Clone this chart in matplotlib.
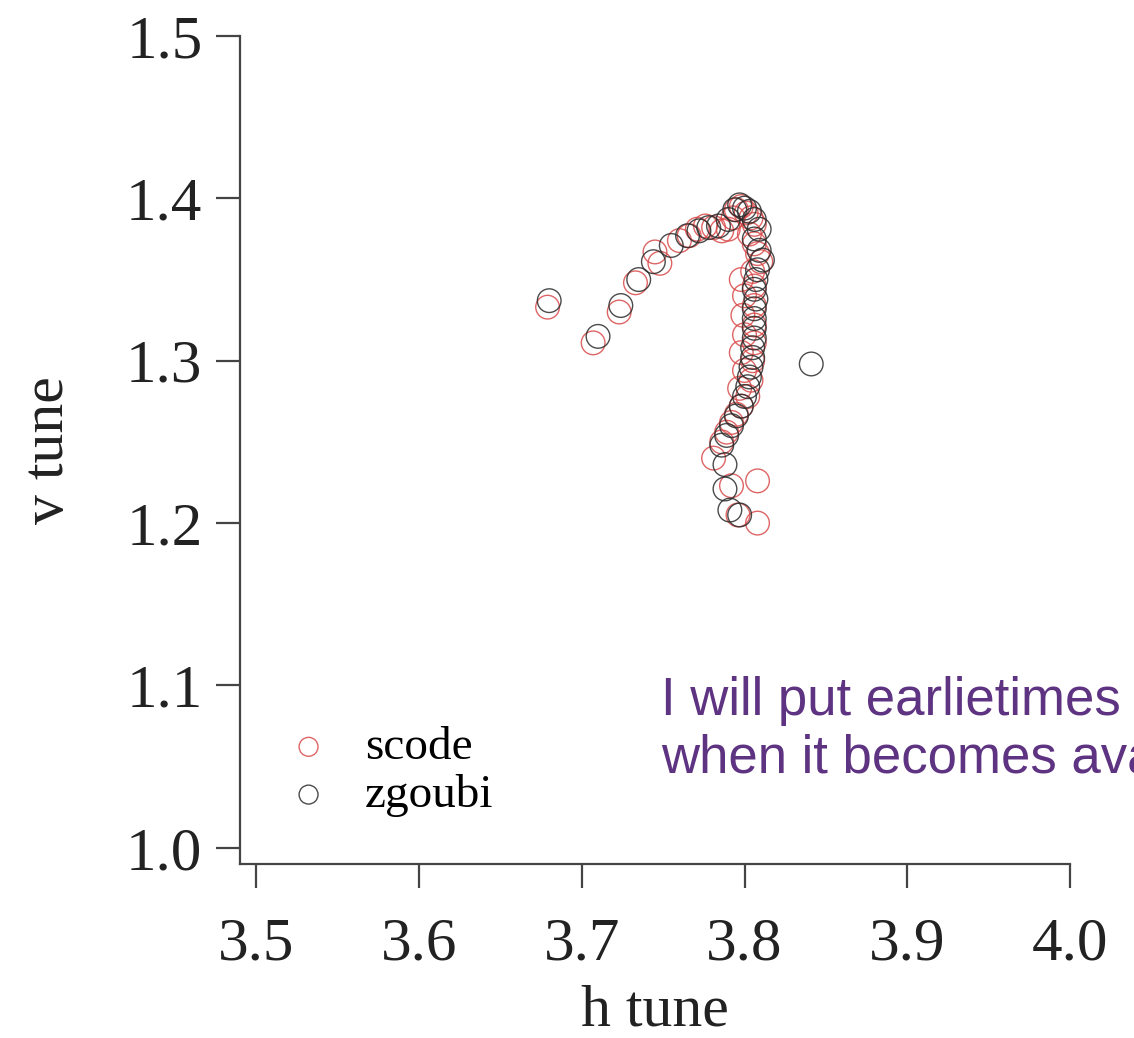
import matplotlib
matplotlib.use("Agg")
import matplotlib.pyplot as plt

# tune footprint, scode run
scode_h = [3.679, 3.707, 3.723, 3.733, 3.745, 3.748, 3.760, 3.766, 3.771, 3.776,
           3.781, 3.786, 3.790, 3.793, 3.795, 3.798, 3.801, 3.804, 3.806, 3.803,
           3.806, 3.808, 3.810, 3.805, 3.798, 3.806, 3.800, 3.806, 3.799, 3.806,
           3.800, 3.806, 3.798, 3.805, 3.800, 3.804, 3.797, 3.802, 3.798, 3.795,
           3.792, 3.789, 3.786, 3.781, 3.792, 3.808, 3.796, 3.808]
scode_v = [1.333, 1.311, 1.330, 1.348, 1.367, 1.360, 1.374, 1.377, 1.381, 1.383,
           1.382, 1.380, 1.381, 1.388, 1.393, 1.395, 1.391, 1.388, 1.384, 1.378,
           1.372, 1.366, 1.361, 1.355, 1.350, 1.346, 1.340, 1.334, 1.328, 1.322,
           1.316, 1.311, 1.305, 1.300, 1.294, 1.288, 1.283, 1.278, 1.272, 1.267,
           1.262, 1.256, 1.250, 1.240, 1.223, 1.226, 1.205, 1.200]

# same lattice tracked with zgoubi
zgoubi_h = [3.680, 3.710, 3.724, 3.735, 3.744, 3.755, 3.765, 3.772, 3.778, 3.784,
            3.790, 3.794, 3.797, 3.800, 3.803, 3.806, 3.809, 3.806, 3.809, 3.811,
            3.808, 3.807, 3.806, 3.807, 3.806, 3.806, 3.806, 3.806, 3.805, 3.805,
            3.804, 3.803, 3.802, 3.800, 3.798, 3.795, 3.792, 3.789, 3.786, 3.788,
            3.788, 3.791, 3.797, 3.841]
zgoubi_v = [1.337, 1.315, 1.334, 1.350, 1.361, 1.371, 1.377, 1.380, 1.382, 1.383,
            1.387, 1.393, 1.396, 1.394, 1.392, 1.387, 1.381, 1.375, 1.368, 1.362,
            1.356, 1.350, 1.344, 1.338, 1.332, 1.326, 1.320, 1.314, 1.308, 1.302,
            1.296, 1.290, 1.284, 1.278, 1.272, 1.266, 1.260, 1.254, 1.248, 1.236,
            1.221, 1.208, 1.205, 1.298]

xticks = [3.5, 3.6, 3.7, 3.8, 3.9, 4.0]
yticks = [1.0, 1.1, 1.2, 1.3, 1.4, 1.5]

plt.rcParams['font.family'] = ['Liberation Serif', 'DejaVu Serif']

fig = plt.figure(figsize=(11.34, 10.38), dpi=100)
ax = fig.add_axes([0.2116, 0.1676, 0.7320, 0.7977])

ax.scatter(scode_h, scode_v, s=290, facecolors='none', edgecolors='#d94a4a',
           linewidths=1.0, alpha=0.85, label='scode')
ax.scatter(zgoubi_h, zgoubi_v, s=290, facecolors='none', edgecolors='#2b2b2b',
           linewidths=1.0, alpha=0.85, label='zgoubi')

ax.set_xlim(3.490, 4.0)
ax.set_ylim(0.990, 1.5)
ax.set_xticks(xticks)
ax.set_yticks(yticks)
ax.set_xticklabels(['%.1f' % t for t in xticks])
ax.set_yticklabels(['%.1f' % t for t in yticks])

for side in ['top', 'right']:
    ax.spines[side].set_visible(False)
for side in ['left', 'bottom']:
    ax.spines[side].set_color('#444444')
    ax.spines[side].set_linewidth(1.6)
ax.tick_params(axis='both', colors='#444444', labelcolor='#222222', width=1.6,
               length=17, labelsize=44)
ax.tick_params(axis='y', pad=10)
ax.tick_params(axis='x', pad=21)

ax.set_xlabel('h tune', fontsize=43, color='#222222', labelpad=9)
ax.set_ylabel('v tune', fontsize=43, color='#222222', labelpad=36)

ax.legend(loc='lower left', bbox_to_anchor=(0.003, 0.034), frameon=False,
          fontsize=34, handletextpad=0.2, labelspacing=0.1, markerscale=0.8,
          borderaxespad=0)

fig.text(0.583, 0.2553, 'I will put earlietimes\nwhen it becomes available',
         fontsize=38, color='#5e3382', family='Liberation Sans',
         linespacing=1.2, va='baseline')

fig.savefig('out.png', dpi=100)
